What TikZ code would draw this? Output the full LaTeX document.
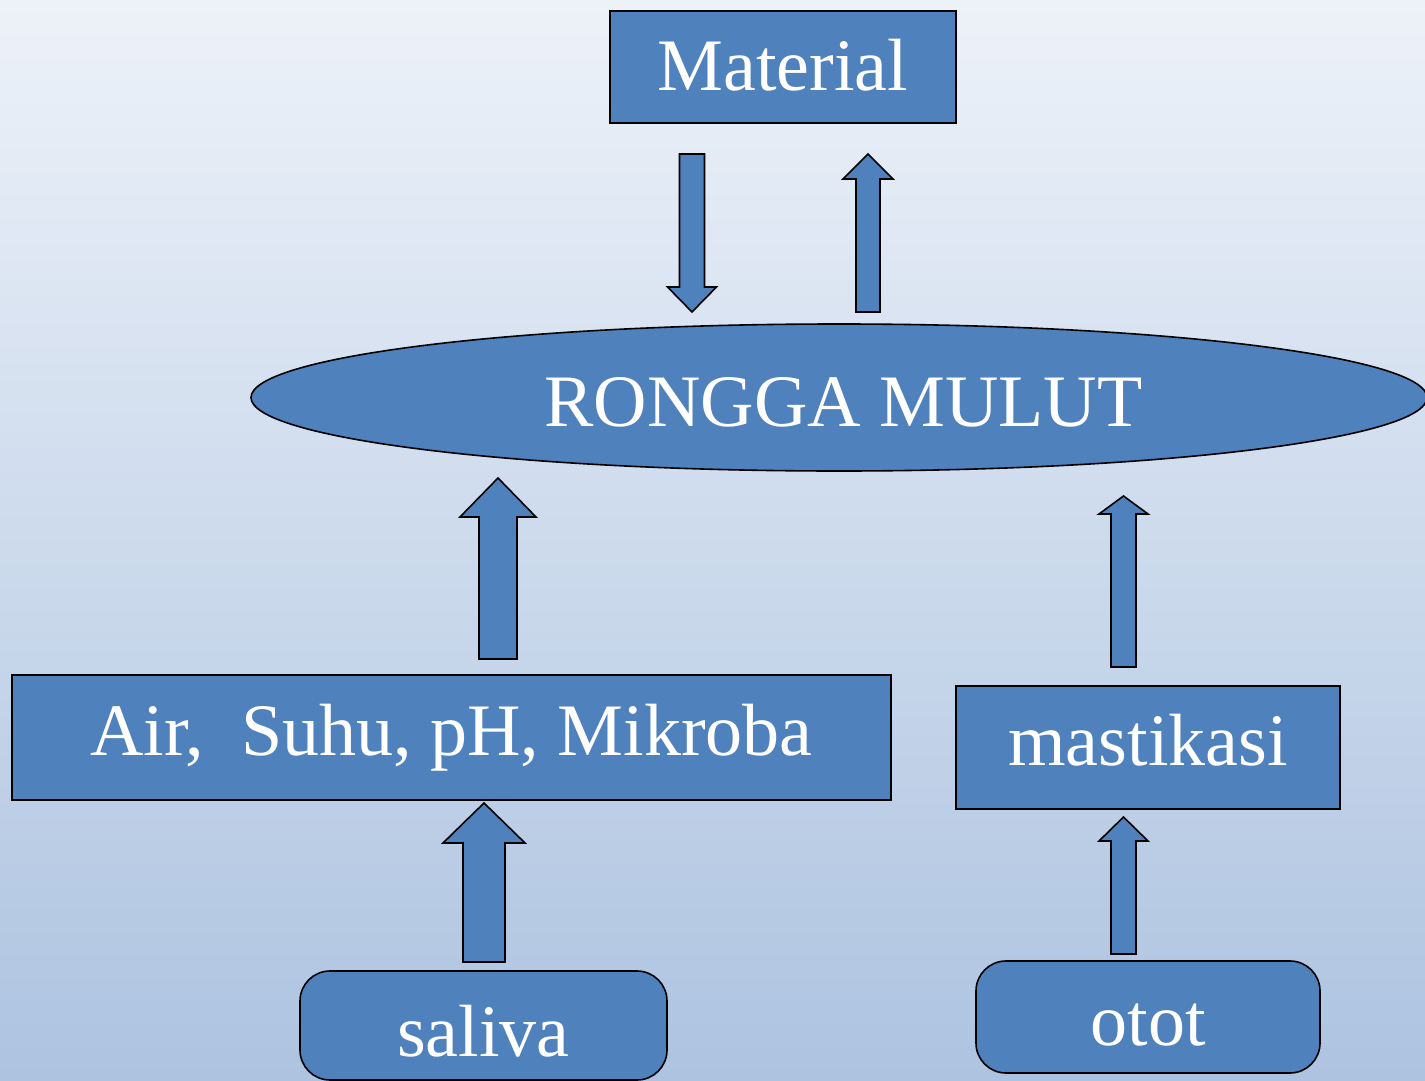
\documentclass[tikz,border=0pt]{standalone}
\usepackage{fontspec}
\setmainfont{Liberation Serif}
\usetikzlibrary{shapes.geometric}
\definecolor{bgtop}{HTML}{EDF2F9}
\definecolor{bgbot}{HTML}{ADC3E0}
\definecolor{boxblue}{HTML}{4F81BD}
\tikzset{
  shp/.style={draw=black, line width=1.6pt, fill=boxblue, text=white, inner sep=0pt,
    font=\fontsize{74}{88}\selectfont, text depth=0pt},
  sqbox/.style={shp, rectangle},
  rdbox/.style={shp, rectangle, rounded corners=30pt},
  ovl/.style={shp, ellipse},
  blk/.style={draw=black, line width=1.6pt, fill=boxblue, line join=miter}
}
% #1 x, #2 tail y, #3 tip y, #4 shaft half width, #5 head half width, #6 head base y
\newcommand\blockarrow[6]{%
  \draw[blk] ({#1-#4},#2) -- ({#1-#4},#6) -- ({#1-#5},#6) -- (#1,#3) -- ({#1+#5},#6)
    -- ({#1+#4},#6) -- ({#1+#4},#2) -- cycle;}
\begin{document}
\begin{tikzpicture}[x=1pt,y=-1pt]
\useasboundingbox (0,0) rectangle (1425,1081);
\clip (0,0) rectangle (1425,1081);
\shade[top color=bgtop, bottom color=bgbot] (0,0) rectangle (1425,1081);

\node[sqbox, minimum width=346pt, minimum height=112pt, text height=46pt] (material) at (783,67) {Material};
\node[ovl, minimum width=1176pt, minimum height=147pt, text height=57pt] (rongga) at (839,397.5) {\hspace*{9pt}RONGGA MULUT};
\node[sqbox, minimum width=879pt, minimum height=125pt, text height=35pt] (faktor) at (451.5,737.5) {Air,\ \ Suhu, pH, Mikroba};
\node[sqbox, minimum width=384pt, minimum height=123pt, text height=35pt] (mastikasi) at (1148,747.5) {mastikasi};
\node[rdbox, minimum width=367pt, minimum height=109pt, text height=61pt] (saliva) at (483.5,1025.5) {saliva};
\node[rdbox, minimum width=344pt, minimum height=112pt, text height=57pt] (otot) at (1148,1017) {otot};

% block arrows
\blockarrow{692}{154}{312}{12.5}{24.5}{287}
\blockarrow{868}{312}{154}{12}{25}{179}
\blockarrow{498}{659}{478}{19}{38}{517}
\blockarrow{484}{962}{803}{21}{41}{843}
\blockarrow{1123.5}{667}{496}{12.5}{24.5}{514}
\blockarrow{1123.5}{954}{817}{12.5}{24.5}{841}
\end{tikzpicture}
\end{document}
